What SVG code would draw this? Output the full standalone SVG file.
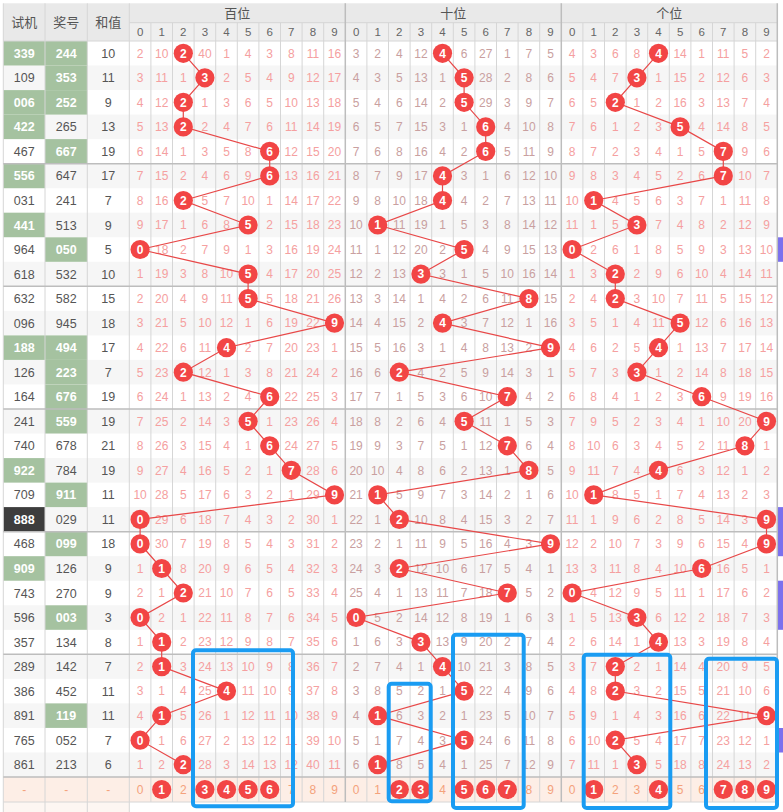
<svg xmlns="http://www.w3.org/2000/svg" width="783" height="812" viewBox="0 0 783 812">
<style>
.L{font-family:"Liberation Sans",Arial,sans-serif;font-size:12.5px;fill:#555;text-anchor:middle}
.W{fill:#fff;font-weight:bold}
.m,.t,.su{font-family:"Liberation Sans",Arial,sans-serif;font-size:12px;text-anchor:middle}
.m{fill:#f5a0a0}.t{fill:#c9a0a0}.su{fill:#f4a27c}
.ball circle{fill:#f24545}
.ball text{fill:#fff;font-family:"Liberation Sans",Arial,sans-serif;font-size:12px;font-weight:bold;text-anchor:middle}
.hd{font-family:"Liberation Sans","Noto Sans CJK SC",sans-serif;font-size:13px;fill:#555;text-anchor:middle}
.dg{font-family:"Liberation Sans",Arial,sans-serif;font-size:11.5px;fill:#666;text-anchor:middle}
.gr{fill:#a5c2a0}
.vl{stroke:#d6d6d6;stroke-width:1}
.sep{stroke:#bdbdbd;stroke-width:1.5}
.conn polyline{fill:none;stroke:#e84848;stroke-width:1.2}
.box{fill:none;stroke:#1a9cf2;stroke-width:4}
.pu{fill:#7b70ee}
</style>
<rect width="783" height="812" fill="#fff"/>
<!-- header -->
<rect x="3.3" y="3.3" width="774" height="37.7" fill="#e9e9e9"/>
<rect x="129.3" y="22.7" width="648" height="18.3" fill="#efefef"/>
<!-- row stripes -->
<g fill="#f6f6f6">
<rect x="3.3" y="65.5" width="774" height="24.5"/><rect x="3.3" y="114.6" width="774" height="24.5"/>
<rect x="3.3" y="163.7" width="774" height="24.5"/><rect x="3.3" y="212.7" width="774" height="24.5"/>
<rect x="3.3" y="261.8" width="774" height="24.5"/><rect x="3.3" y="310.9" width="774" height="24.5"/>
<rect x="3.3" y="359.9" width="774" height="24.5"/><rect x="3.3" y="409" width="774" height="24.5"/>
<rect x="3.3" y="458.1" width="774" height="24.5"/><rect x="3.3" y="507.1" width="774" height="24.5"/>
<rect x="3.3" y="556.2" width="774" height="24.5"/><rect x="3.3" y="605.3" width="774" height="24.5"/>
<rect x="3.3" y="654.3" width="774" height="24.5"/><rect x="3.3" y="703.4" width="774" height="24.5"/>
<rect x="3.3" y="752.5" width="774" height="24.5"/>
</g>
<rect x="3.3" y="777" width="774" height="25" fill="#fdeee6"/>
<rect x="3.3" y="802" width="126" height="10" fill="#fdf6f2"/>
<!-- purple markers -->
<rect class="pu" x="777.3" y="237.3" width="5.7" height="24.5"/>
<rect class="pu" x="777.3" y="507.1" width="5.7" height="49.1"/>
<rect class="pu" x="777.3" y="580.7" width="5.7" height="49.1"/>
<rect class="pu" x="777.3" y="728" width="5.7" height="24.5"/>
<!-- green cells -->
<g class="gr">
<rect x="3.3" y="41" width="41.7" height="24.5"/><rect x="45" y="41" width="42.3" height="24.5"/>
<rect x="45" y="65.5" width="42.3" height="24.5"/>
<rect x="3.3" y="90.1" width="41.7" height="24.5"/><rect x="45" y="90.1" width="42.3" height="24.5"/>
<rect x="3.3" y="114.6" width="41.7" height="24.5"/>
<rect x="45" y="139.1" width="42.3" height="24.5"/>
<rect x="3.3" y="163.7" width="41.7" height="24.5"/>
<rect x="3.3" y="212.7" width="41.7" height="24.5"/>
<rect x="45" y="237.3" width="42.3" height="24.5"/>
<rect x="3.3" y="335.4" width="41.7" height="24.5"/><rect x="45" y="335.4" width="42.3" height="24.5"/>
<rect x="45" y="359.9" width="42.3" height="24.5"/>
<rect x="45" y="384.5" width="42.3" height="24.5"/>
<rect x="45" y="409" width="42.3" height="24.5"/>
<rect x="3.3" y="458.1" width="41.7" height="24.5"/>
<rect x="45" y="482.6" width="42.3" height="24.5"/>
<rect x="45" y="531.7" width="42.3" height="24.5"/>
<rect x="3.3" y="556.2" width="41.7" height="24.5"/>
<rect x="45" y="605.3" width="42.3" height="24.5"/>
<rect x="45" y="703.4" width="42.3" height="24.5"/>
</g>
<rect x="3.3" y="507.1" width="41.7" height="24.5" fill="#3d3d3d"/>
<!-- grid -->
<g class="vl">
<line x1="3.3" y1="3.3" x2="3.3" y2="812"/><line x1="45" y1="3.3" x2="45" y2="812"/><line x1="87.3" y1="3.3" x2="87.3" y2="812"/><line x1="129.3" y1="3.3" x2="129.3" y2="812"/>
<line x1="150.9" y1="22.7" x2="150.9" y2="802"/><line x1="172.5" y1="22.7" x2="172.5" y2="802"/><line x1="194.1" y1="22.7" x2="194.1" y2="802"/><line x1="215.7" y1="22.7" x2="215.7" y2="802"/><line x1="237.3" y1="22.7" x2="237.3" y2="802"/><line x1="258.9" y1="22.7" x2="258.9" y2="802"/><line x1="280.5" y1="22.7" x2="280.5" y2="802"/><line x1="302.1" y1="22.7" x2="302.1" y2="802"/><line x1="323.7" y1="22.7" x2="323.7" y2="802"/>
<line x1="366.9" y1="22.7" x2="366.9" y2="802"/><line x1="388.5" y1="22.7" x2="388.5" y2="802"/><line x1="410.1" y1="22.7" x2="410.1" y2="802"/><line x1="431.7" y1="22.7" x2="431.7" y2="802"/><line x1="453.3" y1="22.7" x2="453.3" y2="802"/><line x1="474.9" y1="22.7" x2="474.9" y2="802"/><line x1="496.5" y1="22.7" x2="496.5" y2="802"/><line x1="518.1" y1="22.7" x2="518.1" y2="802"/><line x1="539.7" y1="22.7" x2="539.7" y2="802"/>
<line x1="582.9" y1="22.7" x2="582.9" y2="802"/><line x1="604.5" y1="22.7" x2="604.5" y2="802"/><line x1="626.1" y1="22.7" x2="626.1" y2="802"/><line x1="647.7" y1="22.7" x2="647.7" y2="802"/><line x1="669.3" y1="22.7" x2="669.3" y2="802"/><line x1="690.9" y1="22.7" x2="690.9" y2="802"/><line x1="712.5" y1="22.7" x2="712.5" y2="802"/><line x1="734.1" y1="22.7" x2="734.1" y2="802"/><line x1="755.7" y1="22.7" x2="755.7" y2="802"/>
<line x1="129.3" y1="22.7" x2="777.3" y2="22.7"/><line x1="3.3" y1="41" x2="777.3" y2="41"/><line x1="3.3" y1="802" x2="777.3" y2="802"/>
</g>
<g class="sep">
<line x1="345.3" y1="3.3" x2="345.3" y2="802"/><line x1="561.3" y1="3.3" x2="561.3" y2="802"/><line x1="777.3" y1="3.3" x2="777.3" y2="802"/>
<line x1="3.3" y1="163.7" x2="777.3" y2="163.7"/><line x1="3.3" y1="286.3" x2="777.3" y2="286.3"/><line x1="3.3" y1="409" x2="777.3" y2="409"/><line x1="3.3" y1="531.7" x2="777.3" y2="531.7"/><line x1="3.3" y1="654.3" x2="777.3" y2="654.3"/><line x1="3.3" y1="777" x2="777.3" y2="777"/>
</g>
<!-- header texts -->
<g id="header">
<text class="hd" x="24.2" y="26.5">试机</text><text class="hd" x="66.2" y="26.5">奖号</text><text class="hd" x="108.3" y="26.5">和值</text>
<text class="hd" x="237.3" y="17.5">百位</text><text class="hd" x="453.3" y="17.5">十位</text><text class="hd" x="669.3" y="17.5">个位</text>
<g class="dg" transform="translate(140.1 36)"><text x="0">0</text><text x="21.6">1</text><text x="43.2">2</text><text x="64.8">3</text><text x="86.4">4</text><text x="108">5</text><text x="129.6">6</text><text x="151.2">7</text><text x="172.8">8</text><text x="194.4">9</text></g>
<g class="dg" transform="translate(356.1 36)"><text x="0">0</text><text x="21.6">1</text><text x="43.2">2</text><text x="64.8">3</text><text x="86.4">4</text><text x="108">5</text><text x="129.6">6</text><text x="151.2">7</text><text x="172.8">8</text><text x="194.4">9</text></g>
<g class="dg" transform="translate(572.1 36)"><text x="0">0</text><text x="21.6">1</text><text x="43.2">2</text><text x="64.8">3</text><text x="86.4">4</text><text x="108">5</text><text x="129.6">6</text><text x="151.2">7</text><text x="172.8">8</text><text x="194.4">9</text></g>
</g>
<!-- rows -->
<g id="r1" transform="translate(0 53.3)"><text class="L W" x="24.2" y="4.5">339</text><text class="L W" x="66.2" y="4.5">244</text><text class="L" x="108.3" y="4.5">10</text>
<g class="m" transform="translate(140.1 4.3)"><text x="0">2</text><text x="21.6">10</text><text x="64.8">40</text><text x="86.4">1</text><text x="108">4</text><text x="129.6">3</text><text x="151.2">8</text><text x="172.8">11</text><text x="194.4">16</text></g>
<g class="t" transform="translate(356.1 4.3)"><text x="0">3</text><text x="21.6">2</text><text x="43.2">4</text><text x="64.8">12</text><text x="108">6</text><text x="129.6">27</text><text x="151.2">1</text><text x="172.8">7</text><text x="194.4">5</text></g>
<g class="m" transform="translate(572.1 4.3)"><text x="0">4</text><text x="21.6">3</text><text x="43.2">6</text><text x="64.8">8</text><text x="108">14</text><text x="129.6">1</text><text x="151.2">11</text><text x="172.8">5</text><text x="194.4">2</text></g></g>
<g id="r2" transform="translate(0 77.8)"><text class="L" x="24.2" y="4.5">109</text><text class="L W" x="66.2" y="4.5">353</text><text class="L" x="108.3" y="4.5">11</text>
<g class="m" transform="translate(140.1 4.3)"><text x="0">3</text><text x="21.6">11</text><text x="43.2">1</text><text x="86.4">2</text><text x="108">5</text><text x="129.6">4</text><text x="151.2">9</text><text x="172.8">12</text><text x="194.4">17</text></g>
<g class="t" transform="translate(356.1 4.3)"><text x="0">4</text><text x="21.6">3</text><text x="43.2">5</text><text x="64.8">13</text><text x="86.4">1</text><text x="129.6">28</text><text x="151.2">2</text><text x="172.8">8</text><text x="194.4">6</text></g>
<g class="m" transform="translate(572.1 4.3)"><text x="0">5</text><text x="21.6">4</text><text x="43.2">7</text><text x="86.4">1</text><text x="108">15</text><text x="129.6">2</text><text x="151.2">12</text><text x="172.8">6</text><text x="194.4">3</text></g></g>
<g id="r3" transform="translate(0 102.3)"><text class="L W" x="24.2" y="4.5">006</text><text class="L W" x="66.2" y="4.5">252</text><text class="L" x="108.3" y="4.5">9</text>
<g class="m" transform="translate(140.1 4.3)"><text x="0">4</text><text x="21.6">12</text><text x="64.8">1</text><text x="86.4">3</text><text x="108">6</text><text x="129.6">5</text><text x="151.2">10</text><text x="172.8">13</text><text x="194.4">18</text></g>
<g class="t" transform="translate(356.1 4.3)"><text x="0">5</text><text x="21.6">4</text><text x="43.2">6</text><text x="64.8">14</text><text x="86.4">2</text><text x="129.6">29</text><text x="151.2">3</text><text x="172.8">9</text><text x="194.4">7</text></g>
<g class="m" transform="translate(572.1 4.3)"><text x="0">6</text><text x="21.6">5</text><text x="64.8">1</text><text x="86.4">2</text><text x="108">16</text><text x="129.6">3</text><text x="151.2">13</text><text x="172.8">7</text><text x="194.4">4</text></g></g>
<g id="r4" transform="translate(0 126.9)"><text class="L W" x="24.2" y="4.5">422</text><text class="L" x="66.2" y="4.5">265</text><text class="L" x="108.3" y="4.5">13</text>
<g class="m" transform="translate(140.1 4.3)"><text x="0">5</text><text x="21.6">13</text><text x="64.8">2</text><text x="86.4">4</text><text x="108">7</text><text x="129.6">6</text><text x="151.2">11</text><text x="172.8">14</text><text x="194.4">19</text></g>
<g class="t" transform="translate(356.1 4.3)"><text x="0">6</text><text x="21.6">5</text><text x="43.2">7</text><text x="64.8">15</text><text x="86.4">3</text><text x="108">1</text><text x="151.2">4</text><text x="172.8">10</text><text x="194.4">8</text></g>
<g class="m" transform="translate(572.1 4.3)"><text x="0">7</text><text x="21.6">6</text><text x="43.2">1</text><text x="64.8">2</text><text x="86.4">3</text><text x="129.6">4</text><text x="151.2">14</text><text x="172.8">8</text><text x="194.4">5</text></g></g>
<g id="r5" transform="translate(0 151.4)"><text class="L" x="24.2" y="4.5">467</text><text class="L W" x="66.2" y="4.5">667</text><text class="L" x="108.3" y="4.5">19</text>
<g class="m" transform="translate(140.1 4.3)"><text x="0">6</text><text x="21.6">14</text><text x="43.2">1</text><text x="64.8">3</text><text x="86.4">5</text><text x="108">8</text><text x="151.2">12</text><text x="172.8">15</text><text x="194.4">20</text></g>
<g class="t" transform="translate(356.1 4.3)"><text x="0">7</text><text x="21.6">6</text><text x="43.2">8</text><text x="64.8">16</text><text x="86.4">4</text><text x="108">2</text><text x="151.2">5</text><text x="172.8">11</text><text x="194.4">9</text></g>
<g class="m" transform="translate(572.1 4.3)"><text x="0">8</text><text x="21.6">7</text><text x="43.2">2</text><text x="64.8">3</text><text x="86.4">4</text><text x="108">1</text><text x="129.6">5</text><text x="172.8">9</text><text x="194.4">6</text></g></g>
<g id="r6" transform="translate(0 175.9)"><text class="L W" x="24.2" y="4.5">556</text><text class="L" x="66.2" y="4.5">647</text><text class="L" x="108.3" y="4.5">17</text>
<g class="m" transform="translate(140.1 4.3)"><text x="0">7</text><text x="21.6">15</text><text x="43.2">2</text><text x="64.8">4</text><text x="86.4">6</text><text x="108">9</text><text x="151.2">13</text><text x="172.8">16</text><text x="194.4">21</text></g>
<g class="t" transform="translate(356.1 4.3)"><text x="0">8</text><text x="21.6">7</text><text x="43.2">9</text><text x="64.8">17</text><text x="108">3</text><text x="129.6">1</text><text x="151.2">6</text><text x="172.8">12</text><text x="194.4">10</text></g>
<g class="m" transform="translate(572.1 4.3)"><text x="0">9</text><text x="21.6">8</text><text x="43.2">3</text><text x="64.8">4</text><text x="86.4">5</text><text x="108">2</text><text x="129.6">6</text><text x="172.8">10</text><text x="194.4">7</text></g></g>
<g id="r7" transform="translate(0 200.5)"><text class="L" x="24.2" y="4.5">031</text><text class="L" x="66.2" y="4.5">241</text><text class="L" x="108.3" y="4.5">7</text>
<g class="m" transform="translate(140.1 4.3)"><text x="0">8</text><text x="21.6">16</text><text x="64.8">5</text><text x="86.4">7</text><text x="108">10</text><text x="129.6">1</text><text x="151.2">14</text><text x="172.8">17</text><text x="194.4">22</text></g>
<g class="t" transform="translate(356.1 4.3)"><text x="0">9</text><text x="21.6">8</text><text x="43.2">10</text><text x="64.8">18</text><text x="108">4</text><text x="129.6">2</text><text x="151.2">7</text><text x="172.8">13</text><text x="194.4">11</text></g>
<g class="m" transform="translate(572.1 4.3)"><text x="0">10</text><text x="43.2">4</text><text x="64.8">5</text><text x="86.4">6</text><text x="108">3</text><text x="129.6">7</text><text x="151.2">1</text><text x="172.8">11</text><text x="194.4">8</text></g></g>
<g id="r8" transform="translate(0 225)"><text class="L W" x="24.2" y="4.5">441</text><text class="L" x="66.2" y="4.5">513</text><text class="L" x="108.3" y="4.5">9</text>
<g class="m" transform="translate(140.1 4.3)"><text x="0">9</text><text x="21.6">17</text><text x="43.2">1</text><text x="64.8">6</text><text x="86.4">8</text><text x="129.6">2</text><text x="151.2">15</text><text x="172.8">18</text><text x="194.4">23</text></g>
<g class="t" transform="translate(356.1 4.3)"><text x="0">10</text><text x="43.2">11</text><text x="64.8">19</text><text x="86.4">1</text><text x="108">5</text><text x="129.6">3</text><text x="151.2">8</text><text x="172.8">14</text><text x="194.4">12</text></g>
<g class="m" transform="translate(572.1 4.3)"><text x="0">11</text><text x="21.6">1</text><text x="43.2">5</text><text x="86.4">7</text><text x="108">4</text><text x="129.6">8</text><text x="151.2">2</text><text x="172.8">12</text><text x="194.4">9</text></g></g>
<g id="r9" transform="translate(0 249.5)"><text class="L" x="24.2" y="4.5">964</text><text class="L W" x="66.2" y="4.5">050</text><text class="L" x="108.3" y="4.5">5</text>
<g class="m" transform="translate(140.1 4.3)"><text x="21.6">18</text><text x="43.2">2</text><text x="64.8">7</text><text x="86.4">9</text><text x="108">1</text><text x="129.6">3</text><text x="151.2">16</text><text x="172.8">19</text><text x="194.4">24</text></g>
<g class="t" transform="translate(356.1 4.3)"><text x="0">11</text><text x="21.6">1</text><text x="43.2">12</text><text x="64.8">20</text><text x="86.4">2</text><text x="129.6">4</text><text x="151.2">9</text><text x="172.8">15</text><text x="194.4">13</text></g>
<g class="m" transform="translate(572.1 4.3)"><text x="21.6">2</text><text x="43.2">6</text><text x="64.8">1</text><text x="86.4">8</text><text x="108">5</text><text x="129.6">9</text><text x="151.2">3</text><text x="172.8">13</text><text x="194.4">10</text></g></g>
<g id="r10" transform="translate(0 274.1)"><text class="L" x="24.2" y="4.5">618</text><text class="L" x="66.2" y="4.5">532</text><text class="L" x="108.3" y="4.5">10</text>
<g class="m" transform="translate(140.1 4.3)"><text x="0">1</text><text x="21.6">19</text><text x="43.2">3</text><text x="64.8">8</text><text x="86.4">10</text><text x="129.6">4</text><text x="151.2">17</text><text x="172.8">20</text><text x="194.4">25</text></g>
<g class="t" transform="translate(356.1 4.3)"><text x="0">12</text><text x="21.6">2</text><text x="43.2">13</text><text x="86.4">3</text><text x="108">1</text><text x="129.6">5</text><text x="151.2">10</text><text x="172.8">16</text><text x="194.4">14</text></g>
<g class="m" transform="translate(572.1 4.3)"><text x="0">1</text><text x="21.6">3</text><text x="64.8">2</text><text x="86.4">9</text><text x="108">6</text><text x="129.6">10</text><text x="151.2">4</text><text x="172.8">14</text><text x="194.4">11</text></g></g>
<g id="r11" transform="translate(0 298.6)"><text class="L" x="24.2" y="4.5">632</text><text class="L" x="66.2" y="4.5">582</text><text class="L" x="108.3" y="4.5">15</text>
<g class="m" transform="translate(140.1 4.3)"><text x="0">2</text><text x="21.6">20</text><text x="43.2">4</text><text x="64.8">9</text><text x="86.4">11</text><text x="129.6">5</text><text x="151.2">18</text><text x="172.8">21</text><text x="194.4">26</text></g>
<g class="t" transform="translate(356.1 4.3)"><text x="0">13</text><text x="21.6">3</text><text x="43.2">14</text><text x="64.8">1</text><text x="86.4">4</text><text x="108">2</text><text x="129.6">6</text><text x="151.2">11</text><text x="194.4">15</text></g>
<g class="m" transform="translate(572.1 4.3)"><text x="0">2</text><text x="21.6">4</text><text x="64.8">3</text><text x="86.4">10</text><text x="108">7</text><text x="129.6">11</text><text x="151.2">5</text><text x="172.8">15</text><text x="194.4">12</text></g></g>
<g id="r12" transform="translate(0 323.1)"><text class="L" x="24.2" y="4.5">096</text><text class="L" x="66.2" y="4.5">945</text><text class="L" x="108.3" y="4.5">18</text>
<g class="m" transform="translate(140.1 4.3)"><text x="0">3</text><text x="21.6">21</text><text x="43.2">5</text><text x="64.8">10</text><text x="86.4">12</text><text x="108">1</text><text x="129.6">6</text><text x="151.2">19</text><text x="172.8">22</text></g>
<g class="t" transform="translate(356.1 4.3)"><text x="0">14</text><text x="21.6">4</text><text x="43.2">15</text><text x="64.8">2</text><text x="108">3</text><text x="129.6">7</text><text x="151.2">12</text><text x="172.8">1</text><text x="194.4">16</text></g>
<g class="m" transform="translate(572.1 4.3)"><text x="0">3</text><text x="21.6">5</text><text x="43.2">1</text><text x="64.8">4</text><text x="86.4">11</text><text x="129.6">12</text><text x="151.2">6</text><text x="172.8">16</text><text x="194.4">13</text></g></g>
<g id="r13" transform="translate(0 347.7)"><text class="L W" x="24.2" y="4.5">188</text><text class="L W" x="66.2" y="4.5">494</text><text class="L" x="108.3" y="4.5">17</text>
<g class="m" transform="translate(140.1 4.3)"><text x="0">4</text><text x="21.6">22</text><text x="43.2">6</text><text x="64.8">11</text><text x="108">2</text><text x="129.6">7</text><text x="151.2">20</text><text x="172.8">23</text><text x="194.4">1</text></g>
<g class="t" transform="translate(356.1 4.3)"><text x="0">15</text><text x="21.6">5</text><text x="43.2">16</text><text x="64.8">3</text><text x="86.4">1</text><text x="108">4</text><text x="129.6">8</text><text x="151.2">13</text><text x="172.8">2</text></g>
<g class="m" transform="translate(572.1 4.3)"><text x="0">4</text><text x="21.6">6</text><text x="43.2">2</text><text x="64.8">5</text><text x="108">1</text><text x="129.6">13</text><text x="151.2">7</text><text x="172.8">17</text><text x="194.4">14</text></g></g>
<g id="r14" transform="translate(0 372.2)"><text class="L" x="24.2" y="4.5">126</text><text class="L W" x="66.2" y="4.5">223</text><text class="L" x="108.3" y="4.5">7</text>
<g class="m" transform="translate(140.1 4.3)"><text x="0">5</text><text x="21.6">23</text><text x="64.8">12</text><text x="86.4">1</text><text x="108">3</text><text x="129.6">8</text><text x="151.2">21</text><text x="172.8">24</text><text x="194.4">2</text></g>
<g class="t" transform="translate(356.1 4.3)"><text x="0">16</text><text x="21.6">6</text><text x="64.8">4</text><text x="86.4">2</text><text x="108">5</text><text x="129.6">9</text><text x="151.2">14</text><text x="172.8">3</text><text x="194.4">1</text></g>
<g class="m" transform="translate(572.1 4.3)"><text x="0">5</text><text x="21.6">7</text><text x="43.2">3</text><text x="86.4">1</text><text x="108">2</text><text x="129.6">14</text><text x="151.2">8</text><text x="172.8">18</text><text x="194.4">15</text></g></g>
<g id="r15" transform="translate(0 396.7)"><text class="L" x="24.2" y="4.5">164</text><text class="L W" x="66.2" y="4.5">676</text><text class="L" x="108.3" y="4.5">19</text>
<g class="m" transform="translate(140.1 4.3)"><text x="0">6</text><text x="21.6">24</text><text x="43.2">1</text><text x="64.8">13</text><text x="86.4">2</text><text x="108">4</text><text x="151.2">22</text><text x="172.8">25</text><text x="194.4">3</text></g>
<g class="t" transform="translate(356.1 4.3)"><text x="0">17</text><text x="21.6">7</text><text x="43.2">1</text><text x="64.8">5</text><text x="86.4">3</text><text x="108">6</text><text x="129.6">10</text><text x="172.8">4</text><text x="194.4">2</text></g>
<g class="m" transform="translate(572.1 4.3)"><text x="0">6</text><text x="21.6">8</text><text x="43.2">4</text><text x="64.8">1</text><text x="86.4">2</text><text x="108">3</text><text x="151.2">9</text><text x="172.8">19</text><text x="194.4">16</text></g></g>
<g id="r16" transform="translate(0 421.3)"><text class="L" x="24.2" y="4.5">241</text><text class="L W" x="66.2" y="4.5">559</text><text class="L" x="108.3" y="4.5">19</text>
<g class="m" transform="translate(140.1 4.3)"><text x="0">7</text><text x="21.6">25</text><text x="43.2">2</text><text x="64.8">14</text><text x="86.4">3</text><text x="129.6">1</text><text x="151.2">23</text><text x="172.8">26</text><text x="194.4">4</text></g>
<g class="t" transform="translate(356.1 4.3)"><text x="0">18</text><text x="21.6">8</text><text x="43.2">2</text><text x="64.8">6</text><text x="86.4">4</text><text x="129.6">11</text><text x="151.2">1</text><text x="172.8">5</text><text x="194.4">3</text></g>
<g class="m" transform="translate(572.1 4.3)"><text x="0">7</text><text x="21.6">9</text><text x="43.2">5</text><text x="64.8">2</text><text x="86.4">3</text><text x="108">4</text><text x="129.6">1</text><text x="151.2">10</text><text x="172.8">20</text></g></g>
<g id="r17" transform="translate(0 445.8)"><text class="L" x="24.2" y="4.5">740</text><text class="L" x="66.2" y="4.5">678</text><text class="L" x="108.3" y="4.5">21</text>
<g class="m" transform="translate(140.1 4.3)"><text x="0">8</text><text x="21.6">26</text><text x="43.2">3</text><text x="64.8">15</text><text x="86.4">4</text><text x="108">1</text><text x="151.2">24</text><text x="172.8">27</text><text x="194.4">5</text></g>
<g class="t" transform="translate(356.1 4.3)"><text x="0">19</text><text x="21.6">9</text><text x="43.2">3</text><text x="64.8">7</text><text x="86.4">5</text><text x="108">1</text><text x="129.6">12</text><text x="172.8">6</text><text x="194.4">4</text></g>
<g class="m" transform="translate(572.1 4.3)"><text x="0">8</text><text x="21.6">10</text><text x="43.2">6</text><text x="64.8">3</text><text x="86.4">4</text><text x="108">5</text><text x="129.6">2</text><text x="151.2">11</text><text x="194.4">1</text></g></g>
<g id="r18" transform="translate(0 470.3)"><text class="L W" x="24.2" y="4.5">922</text><text class="L" x="66.2" y="4.5">784</text><text class="L" x="108.3" y="4.5">19</text>
<g class="m" transform="translate(140.1 4.3)"><text x="0">9</text><text x="21.6">27</text><text x="43.2">4</text><text x="64.8">16</text><text x="86.4">5</text><text x="108">2</text><text x="129.6">1</text><text x="172.8">28</text><text x="194.4">6</text></g>
<g class="t" transform="translate(356.1 4.3)"><text x="0">20</text><text x="21.6">10</text><text x="43.2">4</text><text x="64.8">8</text><text x="86.4">6</text><text x="108">2</text><text x="129.6">13</text><text x="151.2">1</text><text x="194.4">5</text></g>
<g class="m" transform="translate(572.1 4.3)"><text x="0">9</text><text x="21.6">11</text><text x="43.2">7</text><text x="64.8">4</text><text x="108">6</text><text x="129.6">3</text><text x="151.2">12</text><text x="172.8">1</text><text x="194.4">2</text></g></g>
<g id="r19" transform="translate(0 494.9)"><text class="L" x="24.2" y="4.5">709</text><text class="L W" x="66.2" y="4.5">911</text><text class="L" x="108.3" y="4.5">11</text>
<g class="m" transform="translate(140.1 4.3)"><text x="0">10</text><text x="21.6">28</text><text x="43.2">5</text><text x="64.8">17</text><text x="86.4">6</text><text x="108">3</text><text x="129.6">2</text><text x="151.2">1</text><text x="172.8">29</text></g>
<g class="t" transform="translate(356.1 4.3)"><text x="0">21</text><text x="43.2">5</text><text x="64.8">9</text><text x="86.4">7</text><text x="108">3</text><text x="129.6">14</text><text x="151.2">2</text><text x="172.8">1</text><text x="194.4">6</text></g>
<g class="m" transform="translate(572.1 4.3)"><text x="0">10</text><text x="43.2">8</text><text x="64.8">5</text><text x="86.4">1</text><text x="108">7</text><text x="129.6">4</text><text x="151.2">13</text><text x="172.8">2</text><text x="194.4">3</text></g></g>
<g id="r20" transform="translate(0 519.4)"><text class="L W" x="24.2" y="4.5">888</text><text class="L" x="66.2" y="4.5">029</text><text class="L" x="108.3" y="4.5">11</text>
<g class="m" transform="translate(140.1 4.3)"><text x="21.6">29</text><text x="43.2">6</text><text x="64.8">18</text><text x="86.4">7</text><text x="108">4</text><text x="129.6">3</text><text x="151.2">2</text><text x="172.8">30</text><text x="194.4">1</text></g>
<g class="t" transform="translate(356.1 4.3)"><text x="0">22</text><text x="21.6">1</text><text x="64.8">10</text><text x="86.4">8</text><text x="108">4</text><text x="129.6">15</text><text x="151.2">3</text><text x="172.8">2</text><text x="194.4">7</text></g>
<g class="m" transform="translate(572.1 4.3)"><text x="0">11</text><text x="21.6">1</text><text x="43.2">9</text><text x="64.8">6</text><text x="86.4">2</text><text x="108">8</text><text x="129.6">5</text><text x="151.2">14</text><text x="172.8">3</text></g></g>
<g id="r21" transform="translate(0 543.9)"><text class="L" x="24.2" y="4.5">468</text><text class="L W" x="66.2" y="4.5">099</text><text class="L" x="108.3" y="4.5">18</text>
<g class="m" transform="translate(140.1 4.3)"><text x="21.6">30</text><text x="43.2">7</text><text x="64.8">19</text><text x="86.4">8</text><text x="108">5</text><text x="129.6">4</text><text x="151.2">3</text><text x="172.8">31</text><text x="194.4">2</text></g>
<g class="t" transform="translate(356.1 4.3)"><text x="0">23</text><text x="21.6">2</text><text x="43.2">1</text><text x="64.8">11</text><text x="86.4">9</text><text x="108">5</text><text x="129.6">16</text><text x="151.2">4</text><text x="172.8">3</text></g>
<g class="m" transform="translate(572.1 4.3)"><text x="0">12</text><text x="21.6">2</text><text x="43.2">10</text><text x="64.8">7</text><text x="86.4">3</text><text x="108">9</text><text x="129.6">6</text><text x="151.2">15</text><text x="172.8">4</text></g></g>
<g id="r22" transform="translate(0 568.5)"><text class="L W" x="24.2" y="4.5">909</text><text class="L" x="66.2" y="4.5">126</text><text class="L" x="108.3" y="4.5">9</text>
<g class="m" transform="translate(140.1 4.3)"><text x="0">1</text><text x="43.2">8</text><text x="64.8">20</text><text x="86.4">9</text><text x="108">6</text><text x="129.6">5</text><text x="151.2">4</text><text x="172.8">32</text><text x="194.4">3</text></g>
<g class="t" transform="translate(356.1 4.3)"><text x="0">24</text><text x="21.6">3</text><text x="64.8">12</text><text x="86.4">10</text><text x="108">6</text><text x="129.6">17</text><text x="151.2">5</text><text x="172.8">4</text><text x="194.4">1</text></g>
<g class="m" transform="translate(572.1 4.3)"><text x="0">13</text><text x="21.6">3</text><text x="43.2">11</text><text x="64.8">8</text><text x="86.4">4</text><text x="108">10</text><text x="151.2">16</text><text x="172.8">5</text><text x="194.4">1</text></g></g>
<g id="r23" transform="translate(0 593)"><text class="L" x="24.2" y="4.5">743</text><text class="L" x="66.2" y="4.5">270</text><text class="L" x="108.3" y="4.5">9</text>
<g class="m" transform="translate(140.1 4.3)"><text x="0">2</text><text x="21.6">1</text><text x="64.8">21</text><text x="86.4">10</text><text x="108">7</text><text x="129.6">6</text><text x="151.2">5</text><text x="172.8">33</text><text x="194.4">4</text></g>
<g class="t" transform="translate(356.1 4.3)"><text x="0">25</text><text x="21.6">4</text><text x="43.2">1</text><text x="64.8">13</text><text x="86.4">11</text><text x="108">7</text><text x="129.6">18</text><text x="172.8">5</text><text x="194.4">2</text></g>
<g class="m" transform="translate(572.1 4.3)"><text x="21.6">4</text><text x="43.2">12</text><text x="64.8">9</text><text x="86.4">5</text><text x="108">11</text><text x="129.6">1</text><text x="151.2">17</text><text x="172.8">6</text><text x="194.4">2</text></g></g>
<g id="r24" transform="translate(0 617.5)"><text class="L" x="24.2" y="4.5">596</text><text class="L W" x="66.2" y="4.5">003</text><text class="L" x="108.3" y="4.5">3</text>
<g class="m" transform="translate(140.1 4.3)"><text x="21.6">2</text><text x="43.2">1</text><text x="64.8">22</text><text x="86.4">11</text><text x="108">8</text><text x="129.6">7</text><text x="151.2">6</text><text x="172.8">34</text><text x="194.4">5</text></g>
<g class="t" transform="translate(356.1 4.3)"><text x="21.6">5</text><text x="43.2">2</text><text x="64.8">14</text><text x="86.4">12</text><text x="108">8</text><text x="129.6">19</text><text x="151.2">1</text><text x="172.8">6</text><text x="194.4">3</text></g>
<g class="m" transform="translate(572.1 4.3)"><text x="0">1</text><text x="21.6">5</text><text x="43.2">13</text><text x="86.4">6</text><text x="108">12</text><text x="129.6">2</text><text x="151.2">18</text><text x="172.8">7</text><text x="194.4">3</text></g></g>
<g id="r25" transform="translate(0 642.1)"><text class="L" x="24.2" y="4.5">357</text><text class="L" x="66.2" y="4.5">134</text><text class="L" x="108.3" y="4.5">8</text>
<g class="m" transform="translate(140.1 4.3)"><text x="0">1</text><text x="43.2">2</text><text x="64.8">23</text><text x="86.4">12</text><text x="108">9</text><text x="129.6">8</text><text x="151.2">7</text><text x="172.8">35</text><text x="194.4">6</text></g>
<g class="t" transform="translate(356.1 4.3)"><text x="0">1</text><text x="21.6">6</text><text x="43.2">3</text><text x="86.4">13</text><text x="108">9</text><text x="129.6">20</text><text x="151.2">2</text><text x="172.8">7</text><text x="194.4">4</text></g>
<g class="m" transform="translate(572.1 4.3)"><text x="0">2</text><text x="21.6">6</text><text x="43.2">14</text><text x="64.8">1</text><text x="108">13</text><text x="129.6">3</text><text x="151.2">19</text><text x="172.8">8</text><text x="194.4">4</text></g></g>
<g id="r26" transform="translate(0 666.6)"><text class="L" x="24.2" y="4.5">289</text><text class="L" x="66.2" y="4.5">142</text><text class="L" x="108.3" y="4.5">7</text>
<g class="m" transform="translate(140.1 4.3)"><text x="0">2</text><text x="43.2">3</text><text x="64.8">24</text><text x="86.4">13</text><text x="108">10</text><text x="129.6">9</text><text x="151.2">8</text><text x="172.8">36</text><text x="194.4">7</text></g>
<g class="t" transform="translate(356.1 4.3)"><text x="0">2</text><text x="21.6">7</text><text x="43.2">4</text><text x="64.8">1</text><text x="108">10</text><text x="129.6">21</text><text x="151.2">3</text><text x="172.8">8</text><text x="194.4">5</text></g>
<g class="m" transform="translate(572.1 4.3)"><text x="0">3</text><text x="21.6">7</text><text x="64.8">2</text><text x="86.4">1</text><text x="108">14</text><text x="129.6">4</text><text x="151.2">20</text><text x="172.8">9</text><text x="194.4">5</text></g></g>
<g id="r27" transform="translate(0 691.1)"><text class="L" x="24.2" y="4.5">386</text><text class="L" x="66.2" y="4.5">452</text><text class="L" x="108.3" y="4.5">11</text>
<g class="m" transform="translate(140.1 4.3)"><text x="0">3</text><text x="21.6">1</text><text x="43.2">4</text><text x="64.8">25</text><text x="108">11</text><text x="129.6">10</text><text x="151.2">9</text><text x="172.8">37</text><text x="194.4">8</text></g>
<g class="t" transform="translate(356.1 4.3)"><text x="0">3</text><text x="21.6">8</text><text x="43.2">5</text><text x="64.8">2</text><text x="86.4">1</text><text x="129.6">22</text><text x="151.2">4</text><text x="172.8">9</text><text x="194.4">6</text></g>
<g class="m" transform="translate(572.1 4.3)"><text x="0">4</text><text x="21.6">8</text><text x="64.8">3</text><text x="86.4">2</text><text x="108">15</text><text x="129.6">5</text><text x="151.2">21</text><text x="172.8">10</text><text x="194.4">6</text></g></g>
<g id="r28" transform="translate(0 715.7)"><text class="L" x="24.2" y="4.5">891</text><text class="L W" x="66.2" y="4.5">119</text><text class="L" x="108.3" y="4.5">11</text>
<g class="m" transform="translate(140.1 4.3)"><text x="0">4</text><text x="43.2">5</text><text x="64.8">26</text><text x="86.4">1</text><text x="108">12</text><text x="129.6">11</text><text x="151.2">10</text><text x="172.8">38</text><text x="194.4">9</text></g>
<g class="t" transform="translate(356.1 4.3)"><text x="0">4</text><text x="43.2">6</text><text x="64.8">3</text><text x="86.4">2</text><text x="108">1</text><text x="129.6">23</text><text x="151.2">5</text><text x="172.8">10</text><text x="194.4">7</text></g>
<g class="m" transform="translate(572.1 4.3)"><text x="0">5</text><text x="21.6">9</text><text x="43.2">1</text><text x="64.8">4</text><text x="86.4">3</text><text x="108">16</text><text x="129.6">6</text><text x="151.2">22</text><text x="172.8">11</text></g></g>
<g id="r29" transform="translate(0 740.2)"><text class="L" x="24.2" y="4.5">765</text><text class="L" x="66.2" y="4.5">052</text><text class="L" x="108.3" y="4.5">7</text>
<g class="m" transform="translate(140.1 4.3)"><text x="21.6">1</text><text x="43.2">6</text><text x="64.8">27</text><text x="86.4">2</text><text x="108">13</text><text x="129.6">12</text><text x="151.2">11</text><text x="172.8">39</text><text x="194.4">10</text></g>
<g class="t" transform="translate(356.1 4.3)"><text x="0">5</text><text x="21.6">1</text><text x="43.2">7</text><text x="64.8">4</text><text x="86.4">3</text><text x="129.6">24</text><text x="151.2">6</text><text x="172.8">11</text><text x="194.4">8</text></g>
<g class="m" transform="translate(572.1 4.3)"><text x="0">6</text><text x="21.6">10</text><text x="64.8">5</text><text x="86.4">4</text><text x="108">17</text><text x="129.6">7</text><text x="151.2">23</text><text x="172.8">12</text><text x="194.4">1</text></g></g>
<g id="r30" transform="translate(0 764.7)"><text class="L" x="24.2" y="4.5">861</text><text class="L" x="66.2" y="4.5">213</text><text class="L" x="108.3" y="4.5">6</text>
<g class="m" transform="translate(140.1 4.3)"><text x="0">1</text><text x="21.6">2</text><text x="64.8">28</text><text x="86.4">3</text><text x="108">14</text><text x="129.6">13</text><text x="151.2">12</text><text x="172.8">40</text><text x="194.4">11</text></g>
<g class="t" transform="translate(356.1 4.3)"><text x="0">6</text><text x="43.2">8</text><text x="64.8">5</text><text x="86.4">4</text><text x="108">1</text><text x="129.6">25</text><text x="151.2">7</text><text x="172.8">12</text><text x="194.4">9</text></g>
<g class="m" transform="translate(572.1 4.3)"><text x="0">7</text><text x="21.6">11</text><text x="43.2">1</text><text x="86.4">5</text><text x="108">18</text><text x="129.6">8</text><text x="151.2">24</text><text x="172.8">13</text><text x="194.4">2</text></g></g>
<g id="summary" class="su" transform="translate(0 793.8)"><text x="24.2">-</text><text x="66.2">-</text><text x="108.3">-</text>
<text x="140.1">0</text><text x="183.3">2</text><text x="291.3">7</text><text x="312.9">8</text><text x="334.5">9</text>
<text x="356.1">0</text><text x="377.7">1</text><text x="442.5">4</text><text x="528.9">8</text><text x="550.5">9</text>
<text x="572.1">0</text><text x="615.3">2</text><text x="636.9">3</text><text x="680.1">5</text><text x="701.7">6</text></g>
<!-- connectors -->
<g id="connectors" class="conn">
<polyline points="183.3,53.3 204.9,77.8 183.3,102.3 183.3,126.9 269.7,151.4 269.7,175.9 183.3,200.5 248.1,225 140.1,249.5 248.1,274.1 248.1,298.6 334.5,323.1 226.5,347.7 183.3,372.2 269.7,396.7 248.1,421.3 269.7,445.8 291.3,470.3 334.5,494.9 140.1,519.4 140.1,543.9 161.7,568.5 183.3,593 140.1,617.5 161.7,642.1 161.7,666.6 226.5,691.1 161.7,715.7 140.1,740.2 183.3,764.7"/>
<polyline points="442.5,53.3 464.1,77.8 464.1,102.3 485.7,126.9 485.7,151.4 442.5,175.9 442.5,200.5 377.7,225 464.1,249.5 420.9,274.1 528.9,298.6 442.5,323.1 550.5,347.7 399.3,372.2 507.3,396.7 464.1,421.3 507.3,445.8 528.9,470.3 377.7,494.9 399.3,519.4 550.5,543.9 399.3,568.5 507.3,593 356.1,617.5 420.9,642.1 442.5,666.6 464.1,691.1 377.7,715.7 464.1,740.2 377.7,764.7"/>
<polyline points="658.5,53.3 636.9,77.8 615.3,102.3 680.1,126.9 723.3,151.4 723.3,175.9 593.7,200.5 636.9,225 572.1,249.5 615.3,274.1 615.3,298.6 680.1,323.1 658.5,347.7 636.9,372.2 701.7,396.7 766.5,421.3 744.9,445.8 658.5,470.3 593.7,494.9 766.5,519.4 766.5,543.9 701.7,568.5 572.1,593 636.9,617.5 658.5,642.1 615.3,666.6 615.3,691.1 766.5,715.7 615.3,740.2 636.9,764.7"/>
</g>
<!-- balls -->
<g id="balls">
<g class="ball" id="h1" transform="translate(183.3 53.3)"><circle r="9.6"/><text y="4.3">2</text></g>
<g class="ball" id="h2" transform="translate(204.9 77.8)"><circle r="9.6"/><text y="4.3">3</text></g>
<g class="ball" id="h3" transform="translate(183.3 102.3)"><circle r="9.6"/><text y="4.3">2</text></g>
<g class="ball" id="h4" transform="translate(183.3 126.9)"><circle r="9.6"/><text y="4.3">2</text></g>
<g class="ball" id="h5" transform="translate(269.7 151.4)"><circle r="9.6"/><text y="4.3">6</text></g>
<g class="ball" id="h6" transform="translate(269.7 175.9)"><circle r="9.6"/><text y="4.3">6</text></g>
<g class="ball" id="h7" transform="translate(183.3 200.5)"><circle r="9.6"/><text y="4.3">2</text></g>
<g class="ball" id="h8" transform="translate(248.1 225)"><circle r="9.6"/><text y="4.3">5</text></g>
<g class="ball" id="h9" transform="translate(140.1 249.5)"><circle r="9.6"/><text y="4.3">0</text></g>
<g class="ball" id="h10" transform="translate(248.1 274.1)"><circle r="9.6"/><text y="4.3">5</text></g>
<g class="ball" id="h11" transform="translate(248.1 298.6)"><circle r="9.6"/><text y="4.3">5</text></g>
<g class="ball" id="h12" transform="translate(334.5 323.1)"><circle r="9.6"/><text y="4.3">9</text></g>
<g class="ball" id="h13" transform="translate(226.5 347.7)"><circle r="9.6"/><text y="4.3">4</text></g>
<g class="ball" id="h14" transform="translate(183.3 372.2)"><circle r="9.6"/><text y="4.3">2</text></g>
<g class="ball" id="h15" transform="translate(269.7 396.7)"><circle r="9.6"/><text y="4.3">6</text></g>
<g class="ball" id="h16" transform="translate(248.1 421.3)"><circle r="9.6"/><text y="4.3">5</text></g>
<g class="ball" id="h17" transform="translate(269.7 445.8)"><circle r="9.6"/><text y="4.3">6</text></g>
<g class="ball" id="h18" transform="translate(291.3 470.3)"><circle r="9.6"/><text y="4.3">7</text></g>
<g class="ball" id="h19" transform="translate(334.5 494.9)"><circle r="9.6"/><text y="4.3">9</text></g>
<g class="ball" id="h20" transform="translate(140.1 519.4)"><circle r="9.6"/><text y="4.3">0</text></g>
<g class="ball" id="h21" transform="translate(140.1 543.9)"><circle r="9.6"/><text y="4.3">0</text></g>
<g class="ball" id="h22" transform="translate(161.7 568.5)"><circle r="9.6"/><text y="4.3">1</text></g>
<g class="ball" id="h23" transform="translate(183.3 593)"><circle r="9.6"/><text y="4.3">2</text></g>
<g class="ball" id="h24" transform="translate(140.1 617.5)"><circle r="9.6"/><text y="4.3">0</text></g>
<g class="ball" id="h25" transform="translate(161.7 642.1)"><circle r="9.6"/><text y="4.3">1</text></g>
<g class="ball" id="h26" transform="translate(161.7 666.6)"><circle r="9.6"/><text y="4.3">1</text></g>
<g class="ball" id="h27" transform="translate(226.5 691.1)"><circle r="9.6"/><text y="4.3">4</text></g>
<g class="ball" id="h28" transform="translate(161.7 715.7)"><circle r="9.6"/><text y="4.3">1</text></g>
<g class="ball" id="h29" transform="translate(140.1 740.2)"><circle r="9.6"/><text y="4.3">0</text></g>
<g class="ball" id="h30" transform="translate(183.3 764.7)"><circle r="9.6"/><text y="4.3">2</text></g>
<g class="ball" id="s1" transform="translate(442.5 53.3)"><circle r="9.6"/><text y="4.3">4</text></g>
<g class="ball" id="s2" transform="translate(464.1 77.8)"><circle r="9.6"/><text y="4.3">5</text></g>
<g class="ball" id="s3" transform="translate(464.1 102.3)"><circle r="9.6"/><text y="4.3">5</text></g>
<g class="ball" id="s4" transform="translate(485.7 126.9)"><circle r="9.6"/><text y="4.3">6</text></g>
<g class="ball" id="s5" transform="translate(485.7 151.4)"><circle r="9.6"/><text y="4.3">6</text></g>
<g class="ball" id="s6" transform="translate(442.5 175.9)"><circle r="9.6"/><text y="4.3">4</text></g>
<g class="ball" id="s7" transform="translate(442.5 200.5)"><circle r="9.6"/><text y="4.3">4</text></g>
<g class="ball" id="s8" transform="translate(377.7 225)"><circle r="9.6"/><text y="4.3">1</text></g>
<g class="ball" id="s9" transform="translate(464.1 249.5)"><circle r="9.6"/><text y="4.3">5</text></g>
<g class="ball" id="s10" transform="translate(420.9 274.1)"><circle r="9.6"/><text y="4.3">3</text></g>
<g class="ball" id="s11" transform="translate(528.9 298.6)"><circle r="9.6"/><text y="4.3">8</text></g>
<g class="ball" id="s12" transform="translate(442.5 323.1)"><circle r="9.6"/><text y="4.3">4</text></g>
<g class="ball" id="s13" transform="translate(550.5 347.7)"><circle r="9.6"/><text y="4.3">9</text></g>
<g class="ball" id="s14" transform="translate(399.3 372.2)"><circle r="9.6"/><text y="4.3">2</text></g>
<g class="ball" id="s15" transform="translate(507.3 396.7)"><circle r="9.6"/><text y="4.3">7</text></g>
<g class="ball" id="s16" transform="translate(464.1 421.3)"><circle r="9.6"/><text y="4.3">5</text></g>
<g class="ball" id="s17" transform="translate(507.3 445.8)"><circle r="9.6"/><text y="4.3">7</text></g>
<g class="ball" id="s18" transform="translate(528.9 470.3)"><circle r="9.6"/><text y="4.3">8</text></g>
<g class="ball" id="s19" transform="translate(377.7 494.9)"><circle r="9.6"/><text y="4.3">1</text></g>
<g class="ball" id="s20" transform="translate(399.3 519.4)"><circle r="9.6"/><text y="4.3">2</text></g>
<g class="ball" id="s21" transform="translate(550.5 543.9)"><circle r="9.6"/><text y="4.3">9</text></g>
<g class="ball" id="s22" transform="translate(399.3 568.5)"><circle r="9.6"/><text y="4.3">2</text></g>
<g class="ball" id="s23" transform="translate(507.3 593)"><circle r="9.6"/><text y="4.3">7</text></g>
<g class="ball" id="s24" transform="translate(356.1 617.5)"><circle r="9.6"/><text y="4.3">0</text></g>
<g class="ball" id="s25" transform="translate(420.9 642.1)"><circle r="9.6"/><text y="4.3">3</text></g>
<g class="ball" id="s26" transform="translate(442.5 666.6)"><circle r="9.6"/><text y="4.3">4</text></g>
<g class="ball" id="s27" transform="translate(464.1 691.1)"><circle r="9.6"/><text y="4.3">5</text></g>
<g class="ball" id="s28" transform="translate(377.7 715.7)"><circle r="9.6"/><text y="4.3">1</text></g>
<g class="ball" id="s29" transform="translate(464.1 740.2)"><circle r="9.6"/><text y="4.3">5</text></g>
<g class="ball" id="s30" transform="translate(377.7 764.7)"><circle r="9.6"/><text y="4.3">1</text></g>
<g class="ball" id="g1" transform="translate(658.5 53.3)"><circle r="9.6"/><text y="4.3">4</text></g>
<g class="ball" id="g2" transform="translate(636.9 77.8)"><circle r="9.6"/><text y="4.3">3</text></g>
<g class="ball" id="g3" transform="translate(615.3 102.3)"><circle r="9.6"/><text y="4.3">2</text></g>
<g class="ball" id="g4" transform="translate(680.1 126.9)"><circle r="9.6"/><text y="4.3">5</text></g>
<g class="ball" id="g5" transform="translate(723.3 151.4)"><circle r="9.6"/><text y="4.3">7</text></g>
<g class="ball" id="g6" transform="translate(723.3 175.9)"><circle r="9.6"/><text y="4.3">7</text></g>
<g class="ball" id="g7" transform="translate(593.7 200.5)"><circle r="9.6"/><text y="4.3">1</text></g>
<g class="ball" id="g8" transform="translate(636.9 225)"><circle r="9.6"/><text y="4.3">3</text></g>
<g class="ball" id="g9" transform="translate(572.1 249.5)"><circle r="9.6"/><text y="4.3">0</text></g>
<g class="ball" id="g10" transform="translate(615.3 274.1)"><circle r="9.6"/><text y="4.3">2</text></g>
<g class="ball" id="g11" transform="translate(615.3 298.6)"><circle r="9.6"/><text y="4.3">2</text></g>
<g class="ball" id="g12" transform="translate(680.1 323.1)"><circle r="9.6"/><text y="4.3">5</text></g>
<g class="ball" id="g13" transform="translate(658.5 347.7)"><circle r="9.6"/><text y="4.3">4</text></g>
<g class="ball" id="g14" transform="translate(636.9 372.2)"><circle r="9.6"/><text y="4.3">3</text></g>
<g class="ball" id="g15" transform="translate(701.7 396.7)"><circle r="9.6"/><text y="4.3">6</text></g>
<g class="ball" id="g16" transform="translate(766.5 421.3)"><circle r="9.6"/><text y="4.3">9</text></g>
<g class="ball" id="g17" transform="translate(744.9 445.8)"><circle r="9.6"/><text y="4.3">8</text></g>
<g class="ball" id="g18" transform="translate(658.5 470.3)"><circle r="9.6"/><text y="4.3">4</text></g>
<g class="ball" id="g19" transform="translate(593.7 494.9)"><circle r="9.6"/><text y="4.3">1</text></g>
<g class="ball" id="g20" transform="translate(766.5 519.4)"><circle r="9.6"/><text y="4.3">9</text></g>
<g class="ball" id="g21" transform="translate(766.5 543.9)"><circle r="9.6"/><text y="4.3">9</text></g>
<g class="ball" id="g22" transform="translate(701.7 568.5)"><circle r="9.6"/><text y="4.3">6</text></g>
<g class="ball" id="g23" transform="translate(572.1 593)"><circle r="9.6"/><text y="4.3">0</text></g>
<g class="ball" id="g24" transform="translate(636.9 617.5)"><circle r="9.6"/><text y="4.3">3</text></g>
<g class="ball" id="g25" transform="translate(658.5 642.1)"><circle r="9.6"/><text y="4.3">4</text></g>
<g class="ball" id="g26" transform="translate(615.3 666.6)"><circle r="9.6"/><text y="4.3">2</text></g>
<g class="ball" id="g27" transform="translate(615.3 691.1)"><circle r="9.6"/><text y="4.3">2</text></g>
<g class="ball" id="g28" transform="translate(766.5 715.7)"><circle r="9.6"/><text y="4.3">9</text></g>
<g class="ball" id="g29" transform="translate(615.3 740.2)"><circle r="9.6"/><text y="4.3">2</text></g>
<g class="ball" id="g30" transform="translate(636.9 764.7)"><circle r="9.6"/><text y="4.3">3</text></g>
<g class="ball" id="sh1" transform="translate(161.7 789.5)"><circle r="9.6"/><text y="4.3">1</text></g>
<g class="ball" id="sh3" transform="translate(204.9 789.5)"><circle r="9.6"/><text y="4.3">3</text></g>
<g class="ball" id="sh4" transform="translate(226.5 789.5)"><circle r="9.6"/><text y="4.3">4</text></g>
<g class="ball" id="sh5" transform="translate(248.1 789.5)"><circle r="9.6"/><text y="4.3">5</text></g>
<g class="ball" id="sh6" transform="translate(269.7 789.5)"><circle r="9.6"/><text y="4.3">6</text></g>
<g class="ball" id="ss2" transform="translate(399.3 789.5)"><circle r="9.6"/><text y="4.3">2</text></g>
<g class="ball" id="ss3" transform="translate(420.9 789.5)"><circle r="9.6"/><text y="4.3">3</text></g>
<g class="ball" id="ss5" transform="translate(464.1 789.5)"><circle r="9.6"/><text y="4.3">5</text></g>
<g class="ball" id="ss6" transform="translate(485.7 789.5)"><circle r="9.6"/><text y="4.3">6</text></g>
<g class="ball" id="ss7" transform="translate(507.3 789.5)"><circle r="9.6"/><text y="4.3">7</text></g>
<g class="ball" id="sg1" transform="translate(593.7 789.5)"><circle r="9.6"/><text y="4.3">1</text></g>
<g class="ball" id="sg4" transform="translate(658.5 789.5)"><circle r="9.6"/><text y="4.3">4</text></g>
<g class="ball" id="sg7" transform="translate(723.3 789.5)"><circle r="9.6"/><text y="4.3">7</text></g>
<g class="ball" id="sg8" transform="translate(744.9 789.5)"><circle r="9.6"/><text y="4.3">8</text></g>
<g class="ball" id="sg9" transform="translate(766.5 789.5)"><circle r="9.6"/><text y="4.3">9</text></g>
</g>
<!-- highlight boxes -->
<g id="boxes">
<rect class="box" x="193" y="650.3" width="100" height="156" rx="3"/>
<rect class="box" x="388.7" y="683.7" width="42" height="117.6" rx="3"/>
<rect class="box" x="453" y="634.7" width="70.7" height="173.3" rx="3"/>
<rect class="box" x="583.7" y="654.7" width="86.6" height="153.3" rx="3"/>
<rect class="box" x="706" y="658.7" width="71" height="149.3" rx="3"/>
</g>
</svg>
